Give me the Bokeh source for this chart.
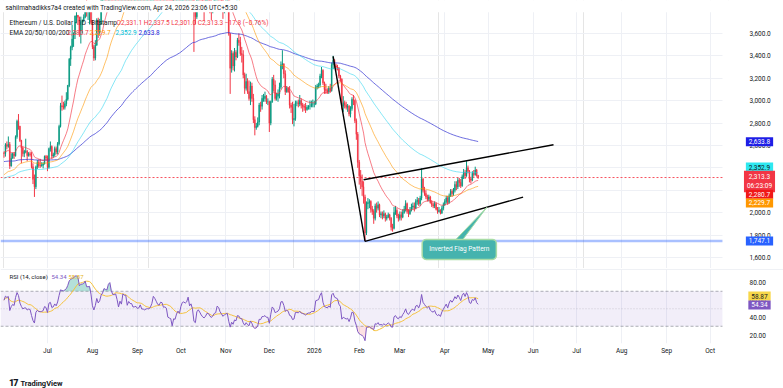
import numpy as np
import pandas as pd
from bokeh.plotting import figure
from bokeh.layouts import column
from bokeh.models import (Range1d, FixedTicker, Grid, Label, ColumnDataSource, Div,
                          NumeralTickFormatter, Span, BoxAnnotation)
from bokeh.embed import file_html
from bokeh.resources import INLINE

# ---------------- data (ETH/USD daily, Bitstamp) ----------------
start_date = "2025-06-01"
first_open = 2530.0

jun_c = [2528, 2606, 2592, 2609, 2417, 2484, 2525, 2508, 2678, 2815,
         2771, 2644, 2578, 2527, 2546, 2548, 2509, 2525, 2519, 2410,
         2297, 2230, 2408, 2448, 2420, 2418, 2423, 2434, 2502, 2487]
jun_h = [2545, 2620, 2635, 2680, 2630, 2530, 2535, 2540, 2690, 2830,
         2880, 2775, 2650, 2590, 2560, 2660, 2560, 2540, 2545, 2540,
         2440, 2340, 2420, 2470, 2475, 2480, 2450, 2450, 2510, 2515]
jun_l = [2490, 2500, 2565, 2580, 2390, 2410, 2485, 2480, 2500, 2660,
         2740, 2630, 2440, 2500, 2495, 2530, 2460, 2500, 2500, 2395,
         2255, 2140, 2210, 2390, 2400, 2400, 2410, 2395, 2430, 2470]

jul_c = [2405, 2571, 2590, 2505, 2516, 2571, 2542, 2615, 2769, 2955,
         2945, 2940, 2972, 3013, 3136, 3370, 3476, 3550, 3593, 3755,
         3762, 3745, 3625, 3705, 3715, 3745, 3876, 3795, 3795, 3810,
         3700]
jul_h = [2510, 2580, 2635, 2600, 2535, 2590, 2590, 2630, 2785, 2980,
         3045, 2990, 3000, 3075, 3140, 3380, 3490, 3675, 3610, 3760,
         3810, 3765, 3750, 3750, 3725, 3770, 3880, 3935, 3830, 3840,
         3880]
jul_l = [2370, 2395, 2545, 2480, 2490, 2500, 2520, 2520, 2600, 2760,
         2910, 2920, 2920, 2950, 3000, 3120, 3310, 3450, 3480, 3550,
         3690, 3675, 3570, 3510, 3600, 3700, 3735, 3750, 3720, 3680,
         3680]

aug_c = [3480, 3380, 3495, 3720, 3612, 3685, 3910, 4010, 4260, 4240,
         4230, 4600, 4750, 4550, 4440, 4430, 4475, 4320, 4080, 4335,
         4230, 4830, 4780, 4780, 4380, 4600, 4510, 4510, 4360, 4370,
         4390]
aug_h = [3720, 3500, 3540, 3735, 3740, 3730, 3930, 4040, 4320, 4330,
         4330, 4620, 4790, 4780, 4700, 4480, 4540, 4480, 4350, 4380,
         4360, 4885, 4850, 4955, 4790, 4630, 4660, 4600, 4600, 4480,
         4480]
aug_l = [3460, 3355, 3360, 3490, 3560, 3580, 3680, 3850, 4000, 4180,
         4150, 4200, 4600, 4450, 4360, 4370, 4410, 4230, 4070, 4060,
         4210, 4230, 4720, 4710, 4340, 4350, 4470, 4450, 4290, 4280,
         4350]

sep_c = [4310, 4330, 4450, 4300, 4300, 4270, 4300, 4310, 4300, 4350,
         4460, 4720, 4670, 4600, 4520, 4500, 4590, 4580, 4470, 4480,
         4450, 4200, 4170, 4150, 3870, 4030, 4010, 4140, 4220, 4150]
sep_h = [4400, 4380, 4490, 4480, 4360, 4370, 4340, 4380, 4360, 4380,
         4480, 4760, 4770, 4690, 4670, 4540, 4610, 4640, 4590, 4490,
         4500, 4460, 4240, 4210, 4160, 4040, 4060, 4160, 4240, 4230]
sep_l = [4210, 4210, 4280, 4270, 4220, 4240, 4250, 4260, 4290, 4300,
         4330, 4450, 4600, 4580, 4440, 4450, 4440, 4550, 4440, 4460,
         4400, 4080, 4150, 4100, 3840, 3820, 3960, 3990, 4080, 4110]

oct_c = [4350, 4490, 4510, 4480, 4520, 4690, 4460, 4530, 4370, 3830,
         3750, 4150, 4240, 4130, 3990, 3890, 3830, 3890, 3990, 3980,
         3880, 3810, 3860, 3930, 3950, 4160, 4120, 3980, 3900, 3810,
         3850]
oct_h = [4380, 4510, 4540, 4550, 4590, 4760, 4750, 4560, 4540, 4390,
         3870, 4180, 4290, 4270, 4180, 4100, 3990, 3920, 4020, 4080,
         4060, 3900, 3890, 3970, 3980, 4200, 4250, 4170, 4050, 3920,
         3890]
oct_l = [4140, 4320, 4430, 4460, 4430, 4510, 4440, 4440, 4320, 3435,
         3680, 3730, 4100, 3930, 3920, 3870, 3710, 3800, 3860, 3940,
         3780, 3720, 3780, 3840, 3900, 3940, 4090, 3960, 3880, 3730,
         3780]

nov_c = [3870, 3890, 3600, 3290, 3420, 3310, 3430, 3390, 3540, 3520,
         3420, 3410, 3230, 3110, 3170, 3080, 3020, 3130, 3020, 2830,
         2760, 2770, 2810, 2960, 2950, 3020, 3020, 3040, 2990, 2990]
nov_h = [3910, 3920, 3910, 3600, 3450, 3440, 3470, 3450, 3560, 3600,
         3570, 3480, 3450, 3250, 3240, 3200, 3180, 3170, 3160, 3060,
         2860, 2800, 2850, 2980, 2990, 3050, 3060, 3080, 3050, 3020]
nov_l = [3800, 3840, 3580, 3060, 3250, 3270, 3260, 3360, 3380, 3490,
         3400, 3340, 3200, 3060, 3090, 3060, 3000, 2960, 2990, 2800,
         2690, 2740, 2760, 2780, 2900, 2920, 2990, 2990, 2970, 2960]

dec_c = [2800, 2990, 3190, 3140, 3020, 3040, 3060, 3120, 3320, 3330,
         3240, 3080, 3110, 3080, 2960, 2940, 2830, 2840, 2980, 2980,
         2970, 3000, 2960, 2950, 2940, 2920, 2940, 2950, 2950, 2970,
         2970]
dec_h = [3000, 3000, 3210, 3230, 3180, 3070, 3100, 3160, 3350, 3450,
         3330, 3270, 3130, 3120, 3130, 2980, 2990, 2970, 3000, 3000,
         3010, 3050, 3020, 2980, 2970, 2980, 2960, 2960, 3000, 3000,
         3010]
dec_l = [2720, 2780, 2980, 3080, 3000, 3000, 2990, 3020, 3100, 3280,
         3200, 3050, 3070, 3070, 2930, 2890, 2790, 2770, 2820, 2950,
         2940, 2950, 2930, 2900, 2910, 2890, 2910, 2920, 2920, 2940,
         2940]

jan_c = [2970, 3120, 3130, 3140, 3220, 3270, 3160, 3100, 3090, 3080,
         3110, 3090, 3320, 3360, 3310, 3300, 3290, 3220, 3190, 2950,
         2980, 2960, 2940, 2950, 2880, 2930, 3010, 3000, 2820, 2700,
         2450]
jan_h = [3000, 3140, 3150, 3160, 3240, 3300, 3280, 3170, 3150, 3110,
         3130, 3150, 3340, 3400, 3370, 3330, 3320, 3300, 3230, 3200,
         3040, 3000, 2990, 2970, 2960, 2950, 3030, 3050, 3010, 2840,
         2720]
jan_l = [2940, 2960, 3100, 3110, 3120, 3200, 3140, 3060, 3060, 3060,
         3060, 3070, 3080, 3280, 3290, 3270, 3270, 3200, 3170, 2920,
         2900, 2930, 2920, 2900, 2860, 2850, 2910, 2960, 2800, 2650,
         2400]

feb_c = [2330, 2280, 2230, 2140, 1820, 2080, 2090, 2100, 2030, 2010,
         1950, 2060, 2040, 2070, 1980, 1990, 1970, 1990, 1950, 1960,
         1980, 1950, 1870, 1860, 2000, 2020, 1970, 1950]
feb_h = [2470, 2380, 2340, 2280, 2160, 2100, 2130, 2120, 2110, 2060,
         2030, 2080, 2090, 2100, 2080, 2010, 2010, 2020, 2000, 1980,
         2000, 1990, 1960, 1900, 2050, 2060, 2040, 1990]
feb_l = [2250, 2210, 2150, 2080, 1747, 1800, 2030, 2040, 2000, 1980,
         1900, 1930, 2000, 2020, 1960, 1950, 1940, 1950, 1920, 1930,
         1950, 1930, 1840, 1830, 1850, 1980, 1950, 1920]

mar_c = [1980, 1960, 2000, 2030, 2080, 2010, 1990, 2020, 2050, 2060,
         2040, 2100, 2110, 2080, 2130, 2300, 2200, 2170, 2140, 2120,
         2140, 2090, 2070, 2060, 2080, 2030, 2010, 2020, 1995, 2040,
         2070]
mar_h = [2010, 2010, 2030, 2060, 2110, 2090, 2030, 2050, 2080, 2090,
         2090, 2120, 2140, 2130, 2150, 2395, 2310, 2230, 2200, 2160,
         2160, 2150, 2110, 2090, 2100, 2090, 2050, 2050, 2030, 2060,
         2090]
mar_l = [1930, 1930, 1950, 1990, 2010, 1990, 1960, 1980, 2010, 2030,
         2010, 2030, 2070, 2060, 2060, 2110, 2180, 2150, 2120, 2100,
         2100, 2080, 2050, 2040, 2040, 2020, 1990, 2000, 1984, 1990,
         2020]

apr_c = [2100, 2130, 2090, 2150, 2190, 2170, 2200, 2250, 2230, 2290,
         2270, 2240, 2320, 2360, 2330, 2400, 2370, 2300, 2290, 2350,
         2340, 2380, 2331.1, 2313.3]
apr_h = [2120, 2150, 2150, 2170, 2210, 2210, 2220, 2280, 2280, 2310,
         2310, 2300, 2340, 2390, 2380, 2460, 2420, 2380, 2320, 2370,
         2380, 2410, 2390, 2337.5]
apr_l = [2060, 2080, 2070, 2080, 2140, 2140, 2150, 2180, 2200, 2210,
         2230, 2220, 2230, 2300, 2300, 2320, 2350, 2270, 2260, 2280,
         2320, 2330, 2320, 2301.0]

ema_seed = {20: 2540.0, 50: 2330.0, 100: 2300.0, 200: 2455.0}
rsi_seed_gain, rsi_seed_loss = 30.0, 20.0

# last values shown in the chart
last_ohlc_text = "O2,331.1 H2,337.5 L2,301.0 C2,313.3 −17.8 (−0.76%)"
ema_last = {20: 2280.7, 50: 2229.7, 100: 2352.9, 200: 2633.8}
last_close = 2313.3
countdown = "06:23:09"
support_level = 1747.1
rsi_last, rsi_ma_last = 54.34, 58.87

# drawings (date, price)
pole_dates, pole_prices = ["2026-01-14", "2026-02-05"], [3395, 1743]
lower_dates, lower_prices = ["2026-02-05", "2026-05-25"], [1743, 2138]
upper_dates, upper_prices = ["2026-02-04", "2026-06-15"], [2294, 2606]
callout_text = "Inverted Flag Pattern"
callout_date, callout_price = "2026-04-11", 1671
pointer_dates = ["2026-04-08", "2026-04-13", "2026-04-30"]
pointer_prices = [1752, 1752, 2047]

price_ticks = [1600, 1800, 2000, 2200, 2400, 2600, 2800, 3000, 3200, 3400, 3600]
rsi_ticks = [20, 40, 60, 80]

# ---------------- derived ----------------
closes = jun_c + jul_c + aug_c + sep_c + oct_c + nov_c + dec_c + jan_c + feb_c + mar_c + apr_c
highs = jun_h + jul_h + aug_h + sep_h + oct_h + nov_h + dec_h + jan_h + feb_h + mar_h + apr_h
lows = jun_l + jul_l + aug_l + sep_l + oct_l + nov_l + dec_l + jan_l + feb_l + mar_l + apr_l
n = min(len(closes), len(highs), len(lows))
closes, highs, lows = closes[:n], highs[:n], lows[:n]

t0 = pd.Timestamp(start_date)
def day(s):
    return (pd.Timestamp(s) - t0).days

dx = np.arange(n, dtype=float)
c = np.array(closes, float)
o = np.array([first_open] + closes[:-1], float)
h = np.maximum(np.array(highs, float), np.maximum(o, c))
l = np.minimum(np.array(lows, float), np.minimum(o, c))
cols = np.where(c >= o, "#089981", "#f23645")

def ema(vals, period, seed):
    a = 2.0 / (period + 1)
    e, out = seed, []
    for v in vals:
        e = a * v + (1 - a) * e
        out.append(e)
    return np.array(out)

def rsi_calc(vals, prev, period, g0, l0):
    ag, al, p, out = g0, l0, prev, []
    for v in vals:
        ch = v - p
        p = v
        ag = (ag * (period - 1) + max(ch, 0)) / period
        al = (al * (period - 1) + max(-ch, 0)) / period
        out.append(100 - 100 / (1 + ag / al) if al > 0 else 100)
    return np.array(out)

emas = {k: ema(c, k, ema_seed[k]) for k in (20, 50, 100, 200)}
rsi = rsi_calc(c, first_open, 14, rsi_seed_gain, rsi_seed_loss)
rsi_ma = pd.Series(rsi).rolling(14, min_periods=1).mean().values

months = pd.date_range("2025-07-01", "2026-10-01", freq="MS")
month_ticks = [int((m - t0).days) for m in months]
month_labels = {int((m - t0).days): (m.strftime("%Y") if m.month == 1 else m.strftime("%b")) for m in months}

# ---------------- layout constants ----------------
W = 783
H1, H2, H3 = 268, 89, 29
X0, XPLOT, XEND = -2.4, 495.5, 537.6      # plot area ends at XPLOT, price scale column after it
XR = Range1d(X0, XEND)
Y1 = Range1d(1501, 3894)
FONT = "Roboto"
FS = "6.5px"
TXT = "#131722"
GRID = "#eef0f5"
TAG_X = 759

def style_axis(ax, standoff):
    ax.axis_line_color = None
    ax.major_tick_line_color = None
    ax.minor_tick_line_color = None
    ax.major_tick_out = 0
    ax.major_label_text_font = FONT
    ax.major_label_text_font_size = FS
    ax.major_label_text_color = TXT
    ax.major_label_standoff = standoff

def stext(fig, x, y, text, color, size=FS):
    fig.add_layout(Label(x=x, y=y, x_units="screen", y_units="screen", text=text,
                         text_font=FONT, text_font_size=size, text_color=color,
                         text_baseline="middle", text_align="left"))

def tag(fig, y, text, bg, fg, dy=0):
    fig.add_layout(Label(x=TAG_X, y=y, x_units="screen", y_units="data", text=text,
                         text_font=FONT, text_font_size=FS, text_color=fg,
                         text_align="center", text_baseline="middle",
                         background_fill_color=bg, padding=(3, 2), y_offset=dy))

# ---------------- main price pane ----------------
p = figure(width=W, height=H1, x_range=XR, y_range=Y1,
           output_backend="svg", toolbar_location=None, x_axis_location=None,
           y_axis_location="right", min_border_left=0, min_border_right=0,
           min_border_top=0, min_border_bottom=0)
p.outline_line_color = None
p.yaxis.ticker = FixedTicker(ticks=price_ticks)
p.yaxis.formatter = NumeralTickFormatter(format="0,0.0")
style_axis(p.yaxis[0], -34)
p.ygrid.ticker = FixedTicker(ticks=price_ticks)
p.ygrid.grid_line_color = GRID
p.add_layout(Grid(dimension=0, ticker=FixedTicker(ticks=month_ticks), grid_line_color=GRID))

# price-scale column background
p.add_layout(BoxAnnotation(left=XPLOT, fill_color="white", fill_alpha=1, line_color=None,
                           level="underlay"))

# horizontal support line and last-price line across the plot area
p.segment(x0=[X0], x1=[XPLOT], y0=[support_level], y1=[support_level],
          line_color="#2962ff", line_alpha=0.4, line_width=2.5)
p.segment(x0=[X0], x1=[XPLOT], y0=[last_close], y1=[last_close],
          line_color="#f7525f", line_alpha=1, line_width=1, line_dash="2 2")

src = ColumnDataSource(dict(x=dx, h=h, l=l, top=np.maximum(o, c), bot=np.minimum(o, c), col=cols))
p.segment(x0="x", y0="l", x1="x", y1="h", line_color="col", line_width=1, source=src)
p.vbar(x="x", width=0.6, top="top", bottom="bot", fill_color="col", line_color="col",
       line_width=0.4, source=src)

ema_colors = {20: "#f23645", 50: "#ff9800", 100: "#22d3ee", 200: "#3b3bd4"}
ema_alpha = {20: 0.65, 50: 0.6, 100: 0.55, 200: 0.75}
for k in (200, 100, 50, 20):
    p.line(dx, emas[k], line_color=ema_colors[k], line_width=1, line_alpha=ema_alpha[k])

for ds, ps in [(pole_dates, pole_prices), (lower_dates, lower_prices), (upper_dates, upper_prices)]:
    p.line([day(s) for s in ds], ps, line_color="#000000", line_width=1.4)

p.patch([day(s) for s in pointer_dates], pointer_prices, fill_color="#45b3ae",
        line_color="#a8dca6", line_width=1)
p.add_layout(Label(x=day(callout_date), y=callout_price, text=callout_text,
                   text_font=FONT, text_font_size=FS, text_color="white",
                   text_align="center", text_baseline="middle",
                   background_fill_color="#45b3ae", border_line_color="#a8dca6",
                   border_line_width=1.5, padding=(7, 6), border_radius=4))

# header band (above the visible price area) and header text
p.add_layout(BoxAnnotation(bottom=3788, fill_color="white", fill_alpha=1, line_color=None))
stext(p, 5, H1 - 7, "sahilmahadikks7a4 created with TradingView.com, Apr 24, 2026 23:06 UTC+5:30", TXT)

# legend texts
stext(p, 9, H1 - 22, "Ethereum / U.S. Dollar · 1D · Bitstamp", TXT)
stext(p, 116, H1 - 22, last_ohlc_text, "#f23645")
stext(p, 9, H1 - 32, "EMA 20/50/100/200", TXT)
leg_x = {20: 67, 50: 89, 100: 115, 200: 138}
leg_c = {20: "#f23645", 50: "#ff9800", 100: "#00bcd4", 200: "#2525d8"}
for k in (20, 50, 100, 200):
    stext(p, leg_x[k], H1 - 32, f"{ema_last[k]:,.1f}", leg_c[k])

tag(p, ema_last[200], f"{ema_last[200]:,.1f}", "#1e1ee6", "white")
tag(p, ema_last[100], f"{ema_last[100]:,.1f}", "#2ee8f0", TXT, 6)
tag(p, last_close, f"{last_close:,.1f}\n{countdown}", "#f23645", "white", -4)
tag(p, ema_last[20], f"{ema_last[20]:,.1f}", "#f01818", "white", -13)
tag(p, ema_last[50], f"{ema_last[50]:,.1f}", "#ff9800", "white", -16)
tag(p, support_level, f"{support_level:,.1f}", "#2962ff", "white")

# ---------------- RSI pane ----------------
r = figure(width=W, height=H2, x_range=XR, y_range=Range1d(10.3, 94.9),
           output_backend="svg", toolbar_location=None, y_axis_location="right",
           min_border_left=0, min_border_right=0, min_border_top=1, min_border_bottom=14)
r.outline_line_color = None
r.xaxis.ticker = FixedTicker(ticks=month_ticks)
r.xaxis.major_label_overrides = month_labels
r.yaxis.ticker = FixedTicker(ticks=rsi_ticks)
r.yaxis.formatter = NumeralTickFormatter(format="0.00")
r.xgrid.grid_line_color = GRID
r.ygrid.grid_line_color = None
style_axis(r.xaxis[0], 3)
style_axis(r.yaxis[0], -34)

r.add_layout(Span(location=94.9, dimension="width", line_color="#e0e3eb", line_width=1))
r.add_layout(BoxAnnotation(left=XPLOT, fill_color="white", fill_alpha=1, line_color=None,
                           level="underlay"))
r.add_layout(BoxAnnotation(bottom=30, top=70, right=XPLOT, fill_color="#7e57c2",
                           fill_alpha=0.1, line_color=None, level="underlay"))
r.segment(x0=[X0, X0], x1=[XPLOT, XPLOT], y0=[70, 30], y1=[70, 30], line_color="#787b86",
          line_alpha=0.6, line_dash="3 2", line_width=1)
r.segment(x0=[X0], x1=[XPLOT], y0=[50], y1=[50], line_color="#787b86",
          line_alpha=0.3, line_dash="1 2", line_width=1)
r.varea(x=dx, y1=np.full(n, 70.0), y2=np.maximum(rsi, 70), fill_color="#089981", fill_alpha=0.3)
r.varea(x=dx, y1=np.minimum(rsi, 30), y2=np.full(n, 30.0), fill_color="#f23645", fill_alpha=0.15)
r.line(dx, rsi_ma, line_color="#f5c13b", line_width=1)
r.line(dx, rsi, line_color="#7e57c2", line_width=1)

stext(r, 9, 67, "RSI (14, close)", TXT, "6px")
stext(r, 51, 67, f"{rsi_last:.2f}", "#7e57c2", "6px")
stext(r, 68, 67, f"{rsi_ma_last:.2f}", "#e6b422", "6px")
tag(r, rsi_ma_last, f"{rsi_ma_last:.2f}", "#f7d74a", TXT, 5)
tag(r, rsi_last, f"{rsi_last:.2f}", "#7e57c2", "white")

logo = Div(text=("<div style='padding-top:15px;padding-left:4px;font-family:Roboto;color:#131722;"
                 "white-space:nowrap;line-height:10px'><span style='font-weight:900;font-size:9px;"
                 "letter-spacing:-1px'>17</span>&nbsp;<span style='font-weight:700;font-size:7.5px'>"
                 "TradingView</span></div>"),
           width=W, height=H3)

page = column(p, r, logo, spacing=0)
open("out.html", "w").write(file_html(page, INLINE))
